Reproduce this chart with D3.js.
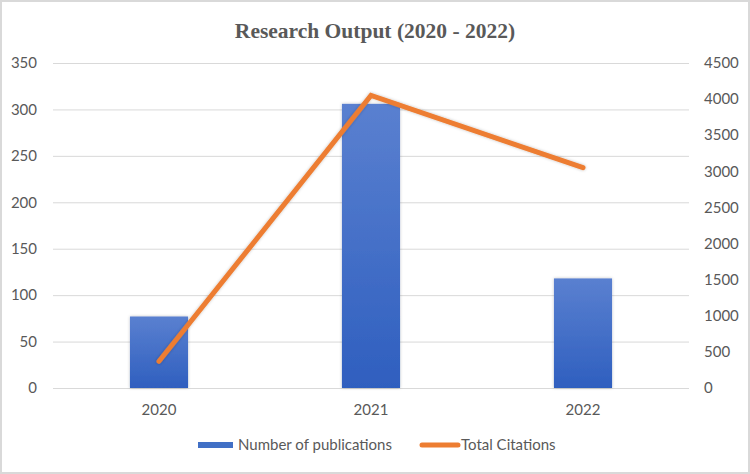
<!DOCTYPE html>
<html><head><meta charset="utf-8">
<script src="https://cdn.jsdelivr.net/npm/d3@7"></script>
<style>body{margin:0;background:#fff}svg{display:block}</style>
</head><body>
<script>
const categories = ["2020", "2021", "2022"];
const publications = [77, 306, 118];
const citations = [370, 4050, 3050];
const leftTicks = [0, 50, 100, 150, 200, 250, 300, 350];
const rightTicks = [0, 500, 1000, 1500, 2000, 2500, 3000, 3500, 4000, 4500];
const title = "Research Output (2020 - 2022)";
const seriesNames = ["Number of publications", "Total Citations"];

(function () {
const W = 750, H = 474;
const svg = d3.select("body").append("svg").attr("width", W).attr("height", H);
const defs = svg.append("defs");
const grad = defs.append("linearGradient").attr("id", "barg").attr("x1", 0).attr("x2", 0).attr("y1", 0).attr("y2", 1);
grad.append("stop").attr("offset", "0%").attr("stop-color", "#5a80d0");
grad.append("stop").attr("offset", "100%").attr("stop-color", "#2f5fbf");
const flt = defs.append("filter").attr("id", "sh").attr("x", "-20%").attr("y", "-20%").attr("width", "140%").attr("height", "140%");
flt.append("feDropShadow").attr("dx", 0).attr("dy", 0).attr("stdDeviation", 1.5).attr("flood-color", "#000").attr("flood-opacity", 0.25);

svg.append("rect").attr("x", 1).attr("y", 1).attr("width", W - 2).attr("height", H - 2)
  .attr("fill", "#fff").attr("stroke", "#d9d9d9").attr("stroke-width", 2);

const pL = 53, pR = 689, pT = 63, pB = 388;
const x = d3.scaleBand().domain(categories).range([pL, pR]).padding(0);
const yL = d3.scaleLinear().domain([0, 350]).range([pB, pT]);
const yR = d3.scaleLinear().domain([0, 4500]).range([pB, pT]);

const font = "Lato, 'Open Sans', sans-serif";
const fs = 15;
svg.append("g").selectAll("line").data(leftTicks).join("line")
  .attr("x1", pL).attr("x2", pR)
  .attr("y1", d => yL(d) + 0.5).attr("y2", d => yL(d) + 0.5)
  .attr("stroke", "#d9d9d9").attr("stroke-width", 1);

svg.append("g").selectAll("text").data(leftTicks).join("text")
  .attr("x", 37).attr("y", d => yL(d)).attr("dy", "0.35em")
  .attr("text-anchor", "end").attr("font-family", font).attr("font-size", fs).attr("fill", "#595959")
  .text(d => d);
svg.append("g").selectAll("text").data(rightTicks).join("text")
  .attr("x", 704).attr("y", d => yR(d)).attr("dy", "0.35em")
  .attr("text-anchor", "start").attr("font-family", font).attr("font-size", fs).attr("fill", "#595959")
  .text(d => d);
svg.append("g").selectAll("text").data(categories).join("text")
  .attr("x", d => x(d) + x.bandwidth() / 2).attr("y", 410).attr("dy", "0.35em")
  .attr("text-anchor", "middle").attr("font-family", font).attr("font-size", fs).attr("fill", "#595959")
  .text(d => d);

const bw = x.bandwidth() * 0.274;
svg.append("g").selectAll("rect").data(categories).join("rect")
  .attr("x", d => x(d) + x.bandwidth() / 2 - bw / 2)
  .attr("y", (d, i) => yL(publications[i]))
  .attr("width", bw)
  .attr("height", (d, i) => yL(0) - yL(publications[i]))
  .attr("fill", "url(#barg)").attr("filter", "url(#sh)");

const line = d3.line().x((d, i) => x(categories[i]) + x.bandwidth() / 2).y(d => yR(d));
svg.append("path").datum(citations).attr("d", line)
  .attr("fill", "none").attr("stroke", "#ed7d31").attr("stroke-width", 5)
  .attr("stroke-linecap", "round").attr("stroke-linejoin", "miter").attr("filter", "url(#sh)");

svg.append("text").attr("x", 375).attr("y", 38).attr("text-anchor", "middle")
  .attr("font-family", "'Liberation Serif', 'Times New Roman', serif").attr("font-weight", "bold")
  .attr("font-size", 21.5).attr("fill", "#595959").text(title);

const ly = 445;
const lg = svg.append("g");
lg.append("rect").attr("x", 198).attr("y", ly - 3).attr("width", 35).attr("height", 6).attr("fill", "#4170c6");
lg.append("text").attr("x", 238).attr("y", ly).attr("dy", "0.35em").attr("font-family", font)
  .attr("font-size", fs).attr("fill", "#595959").text(seriesNames[0]);
lg.append("line").attr("x1", 422).attr("x2", 458).attr("y1", ly).attr("y2", ly)
  .attr("stroke", "#ed7d31").attr("stroke-width", 5).attr("stroke-linecap", "round");
lg.append("text").attr("x", 461).attr("y", ly).attr("dy", "0.35em").attr("font-family", font)
  .attr("font-size", fs).attr("fill", "#595959").text(seriesNames[1]);
})();
</script>
</body></html>
